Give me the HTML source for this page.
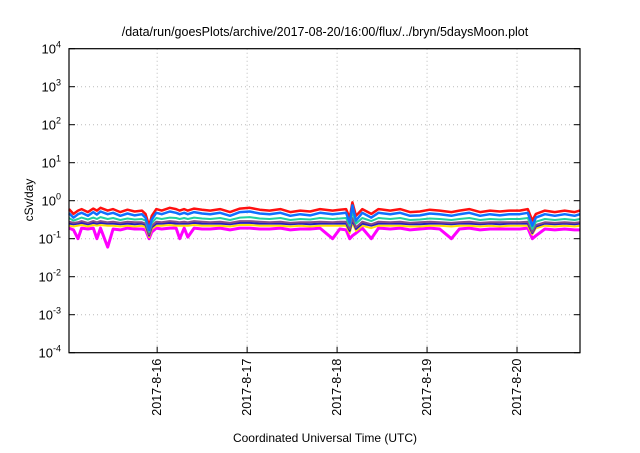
<!DOCTYPE html>
<html><head><meta charset="utf-8"><style>
body{margin:0;background:#fff;width:640px;height:448px;overflow:hidden}
svg text{font-family:"Liberation Sans",Arial,sans-serif;fill:#000}
</style></head><body>
<svg id="chart" width="640" height="448" xmlns="http://www.w3.org/2000/svg">
<text x="325" y="36" font-size="12.5" text-anchor="middle">/data/run/goesPlots/archive/2017-08-20/16:00/flux/../bryn/5daysMoon.plot</text>
<g id="grid"></g>
<g id="series"></g>
<g id="axes"></g>
<text transform="translate(33,200) rotate(-90)" font-size="12" text-anchor="middle">cSv/day</text>
<text x="325" y="442" font-size="12" text-anchor="middle">Coordinated Universal Time (UTC)</text>
</svg>
<script>
const xTickLabels=["2017-8-16","2017-8-17","2017-8-18","2017-8-19","2017-8-20"];
const xTickDays=[0,1,2,3,4];
const yTickExps=[-4,-3,-2,-1,0,1,2,3,4];
const times=[-0.98,-0.93,-0.88,-0.84,-0.77,-0.71,-0.67,-0.63,-0.55,-0.49,-0.41,-0.33,-0.25,-0.17,-0.13,-0.09,-0.06,-0.01,0.05,0.14,0.21,0.25,0.30,0.34,0.41,0.50,0.59,0.70,0.81,0.92,1.03,1.14,1.25,1.37,1.48,1.59,1.70,1.81,1.95,2.03,2.10,2.14,2.17,2.21,2.28,2.38,2.46,2.59,2.70,2.81,2.92,3.03,3.14,3.27,3.36,3.47,3.59,3.70,3.81,3.92,4.03,4.12,4.17,4.21,4.31,4.42,4.53,4.64,4.70];
const red=[0.6,0.45,0.55,0.6,0.5,0.62,0.55,0.65,0.55,0.6,0.5,0.58,0.52,0.55,0.45,0.22,0.4,0.6,0.55,0.65,0.6,0.55,0.6,0.55,0.62,0.58,0.55,0.6,0.5,0.62,0.65,0.58,0.55,0.6,0.5,0.55,0.52,0.6,0.55,0.58,0.6,0.35,0.9,0.4,0.6,0.45,0.6,0.55,0.6,0.5,0.52,0.58,0.55,0.5,0.55,0.6,0.5,0.55,0.52,0.55,0.55,0.6,0.3,0.45,0.55,0.5,0.55,0.5,0.55];
const blue=[0.47,0.36,0.44,0.48,0.4,0.5,0.43,0.52,0.44,0.48,0.4,0.46,0.41,0.44,0.36,0.17,0.32,0.48,0.44,0.52,0.48,0.44,0.48,0.44,0.5,0.46,0.44,0.48,0.4,0.5,0.52,0.46,0.44,0.48,0.4,0.44,0.41,0.48,0.44,0.46,0.48,0.26,0.75,0.3,0.48,0.36,0.48,0.44,0.48,0.4,0.41,0.46,0.44,0.4,0.44,0.48,0.4,0.44,0.41,0.44,0.44,0.48,0.22,0.36,0.44,0.4,0.44,0.4,0.44];
const teal=[0.35,0.3,0.33,0.36,0.32,0.36,0.33,0.37,0.33,0.35,0.31,0.34,0.32,0.33,0.3,0.15,0.26,0.35,0.33,0.36,0.35,0.33,0.35,0.33,0.36,0.34,0.33,0.35,0.31,0.36,0.37,0.34,0.33,0.35,0.31,0.33,0.32,0.35,0.33,0.34,0.35,0.22,0.5,0.25,0.35,0.29,0.35,0.33,0.35,0.31,0.32,0.34,0.33,0.31,0.33,0.35,0.31,0.33,0.32,0.33,0.33,0.35,0.18,0.28,0.33,0.31,0.33,0.31,0.33];
const purple=[0.28,0.26,0.27,0.29,0.26,0.29,0.27,0.29,0.27,0.28,0.26,0.28,0.27,0.27,0.25,0.13,0.22,0.28,0.27,0.29,0.28,0.27,0.28,0.27,0.29,0.28,0.27,0.28,0.26,0.29,0.29,0.28,0.27,0.28,0.26,0.27,0.27,0.28,0.27,0.28,0.28,0.18,0.35,0.2,0.28,0.24,0.28,0.27,0.28,0.26,0.27,0.28,0.27,0.26,0.27,0.28,0.26,0.27,0.27,0.27,0.27,0.28,0.15,0.23,0.27,0.26,0.27,0.26,0.27];
const navy=[0.25,0.24,0.25,0.26,0.24,0.26,0.25,0.26,0.25,0.25,0.24,0.25,0.24,0.25,0.23,0.12,0.2,0.25,0.25,0.26,0.25,0.25,0.25,0.25,0.26,0.25,0.25,0.25,0.24,0.26,0.26,0.25,0.25,0.25,0.24,0.25,0.24,0.25,0.25,0.25,0.25,0.16,0.3,0.18,0.25,0.22,0.25,0.25,0.25,0.24,0.24,0.25,0.25,0.24,0.25,0.25,0.24,0.25,0.24,0.25,0.25,0.25,0.14,0.21,0.25,0.24,0.25,0.24,0.25];
const yellow=[0.22,0.21,0.22,0.23,0.21,0.23,0.22,0.23,0.22,0.22,0.21,0.22,0.21,0.22,0.2,0.11,0.18,0.22,0.22,0.23,0.22,0.22,0.22,0.22,0.23,0.22,0.22,0.22,0.21,0.23,0.23,0.22,0.22,0.22,0.21,0.22,0.21,0.22,0.22,0.22,0.22,0.14,0.26,0.16,0.22,0.19,0.22,0.22,0.22,0.21,0.21,0.22,0.22,0.21,0.22,0.22,0.21,0.22,0.21,0.22,0.22,0.22,0.13,0.19,0.22,0.21,0.22,0.21,0.22];
const magenta=[0.19,0.17,0.1,0.19,0.18,0.19,0.1,0.19,0.06,0.18,0.17,0.19,0.18,0.18,0.17,0.1,0.15,0.19,0.18,0.19,0.19,0.1,0.19,0.11,0.19,0.18,0.18,0.19,0.17,0.19,0.19,0.18,0.18,0.19,0.17,0.18,0.18,0.19,0.1,0.18,0.17,0.1,0.12,0.14,0.19,0.1,0.19,0.18,0.19,0.17,0.18,0.19,0.18,0.1,0.18,0.19,0.17,0.18,0.18,0.18,0.18,0.19,0.1,0.12,0.18,0.17,0.18,0.17,0.17];
const seriesList=[["magenta-series",magenta,"#ff00ff",3],["yellow-series",yellow,"#ffe000",2],["navy-series",navy,"#2020c0",2],["purple-series",purple,"#8a4a8a",2],["teal-series",teal,"#20d0a0",2],["red-series",red,"#ff1010",2.5],["blue-series",blue,"#1070ff",2.5]];
const L=69,R=580,T=48.7,B=352.7,XMIN=-0.98,XMAX=4.70;
const xs=t=>L+(t-XMIN)/(XMAX-XMIN)*(R-L);
const ys=v=>B-(Math.log10(v)+4)/8*(B-T);
const NS="http://www.w3.org/2000/svg";
function mk(tag,attrs,parent){const e=document.createElementNS(NS,tag);for(const k in attrs)e.setAttribute(k,attrs[k]);parent.appendChild(e);return e;}
const grid=document.getElementById('grid'),axes=document.getElementById('axes'),sg=document.getElementById('series');
yTickExps.forEach(p=>{
  const y=ys(Math.pow(10,p));
  if(p>-4&&p<4){const g=mk('line',{x1:L,x2:R,y1:y,y2:y,stroke:'#bbb','stroke-dasharray':'1,3','stroke-width':1},grid);
  
  }
  const tk=mk('line',{x1:L,x2:L+6,y1:y,y2:y,stroke:'#000'},axes);
  
  
  const tk2=mk('line',{x1:R-6,x2:R,y1:y,y2:y,stroke:'#000'},axes);
  
  
  const t=mk('text',{x:L-8,y:y+5,'font-size':13,'text-anchor':'end'},axes);
  
  
  t.textContent='10';
  const s=mk('tspan',{dy:-6,'font-size':9},t);s.textContent=String(p);
});
xTickDays.forEach((d,i)=>{
  const x=xs(d);
  const g=mk('line',{x1:x,x2:x,y1:T,y2:B,stroke:'#bbb','stroke-dasharray':'1,3'},grid);
  
  
  const tk=mk('line',{x1:x,x2:x,y1:B-6,y2:B,stroke:'#000'},axes);
  
  
  const t=mk('text',{transform:`translate(${x+4},${B+6}) rotate(-90)`,'font-size':12.5,'text-anchor':'end'},axes);
  
  
  t.textContent=xTickLabels[i];
});
const frame=mk('rect',{x:L,y:T,width:R-L,height:B-T,fill:'none',stroke:'#000','stroke-width':1.2},axes);


seriesList.forEach(([name,vals,col,w])=>{
  const n=Math.min(times.length,vals.length);
  let d='';for(let i=0;i<n;i++)d+=(i?'L':'M')+xs(times[i]).toFixed(1)+','+ys(vals[i]).toFixed(1);
  const p=mk('path',{d:d,fill:'none',stroke:col,'stroke-width':w,'stroke-linejoin':'round'},sg);
  
  
});
</script>
</body></html>
